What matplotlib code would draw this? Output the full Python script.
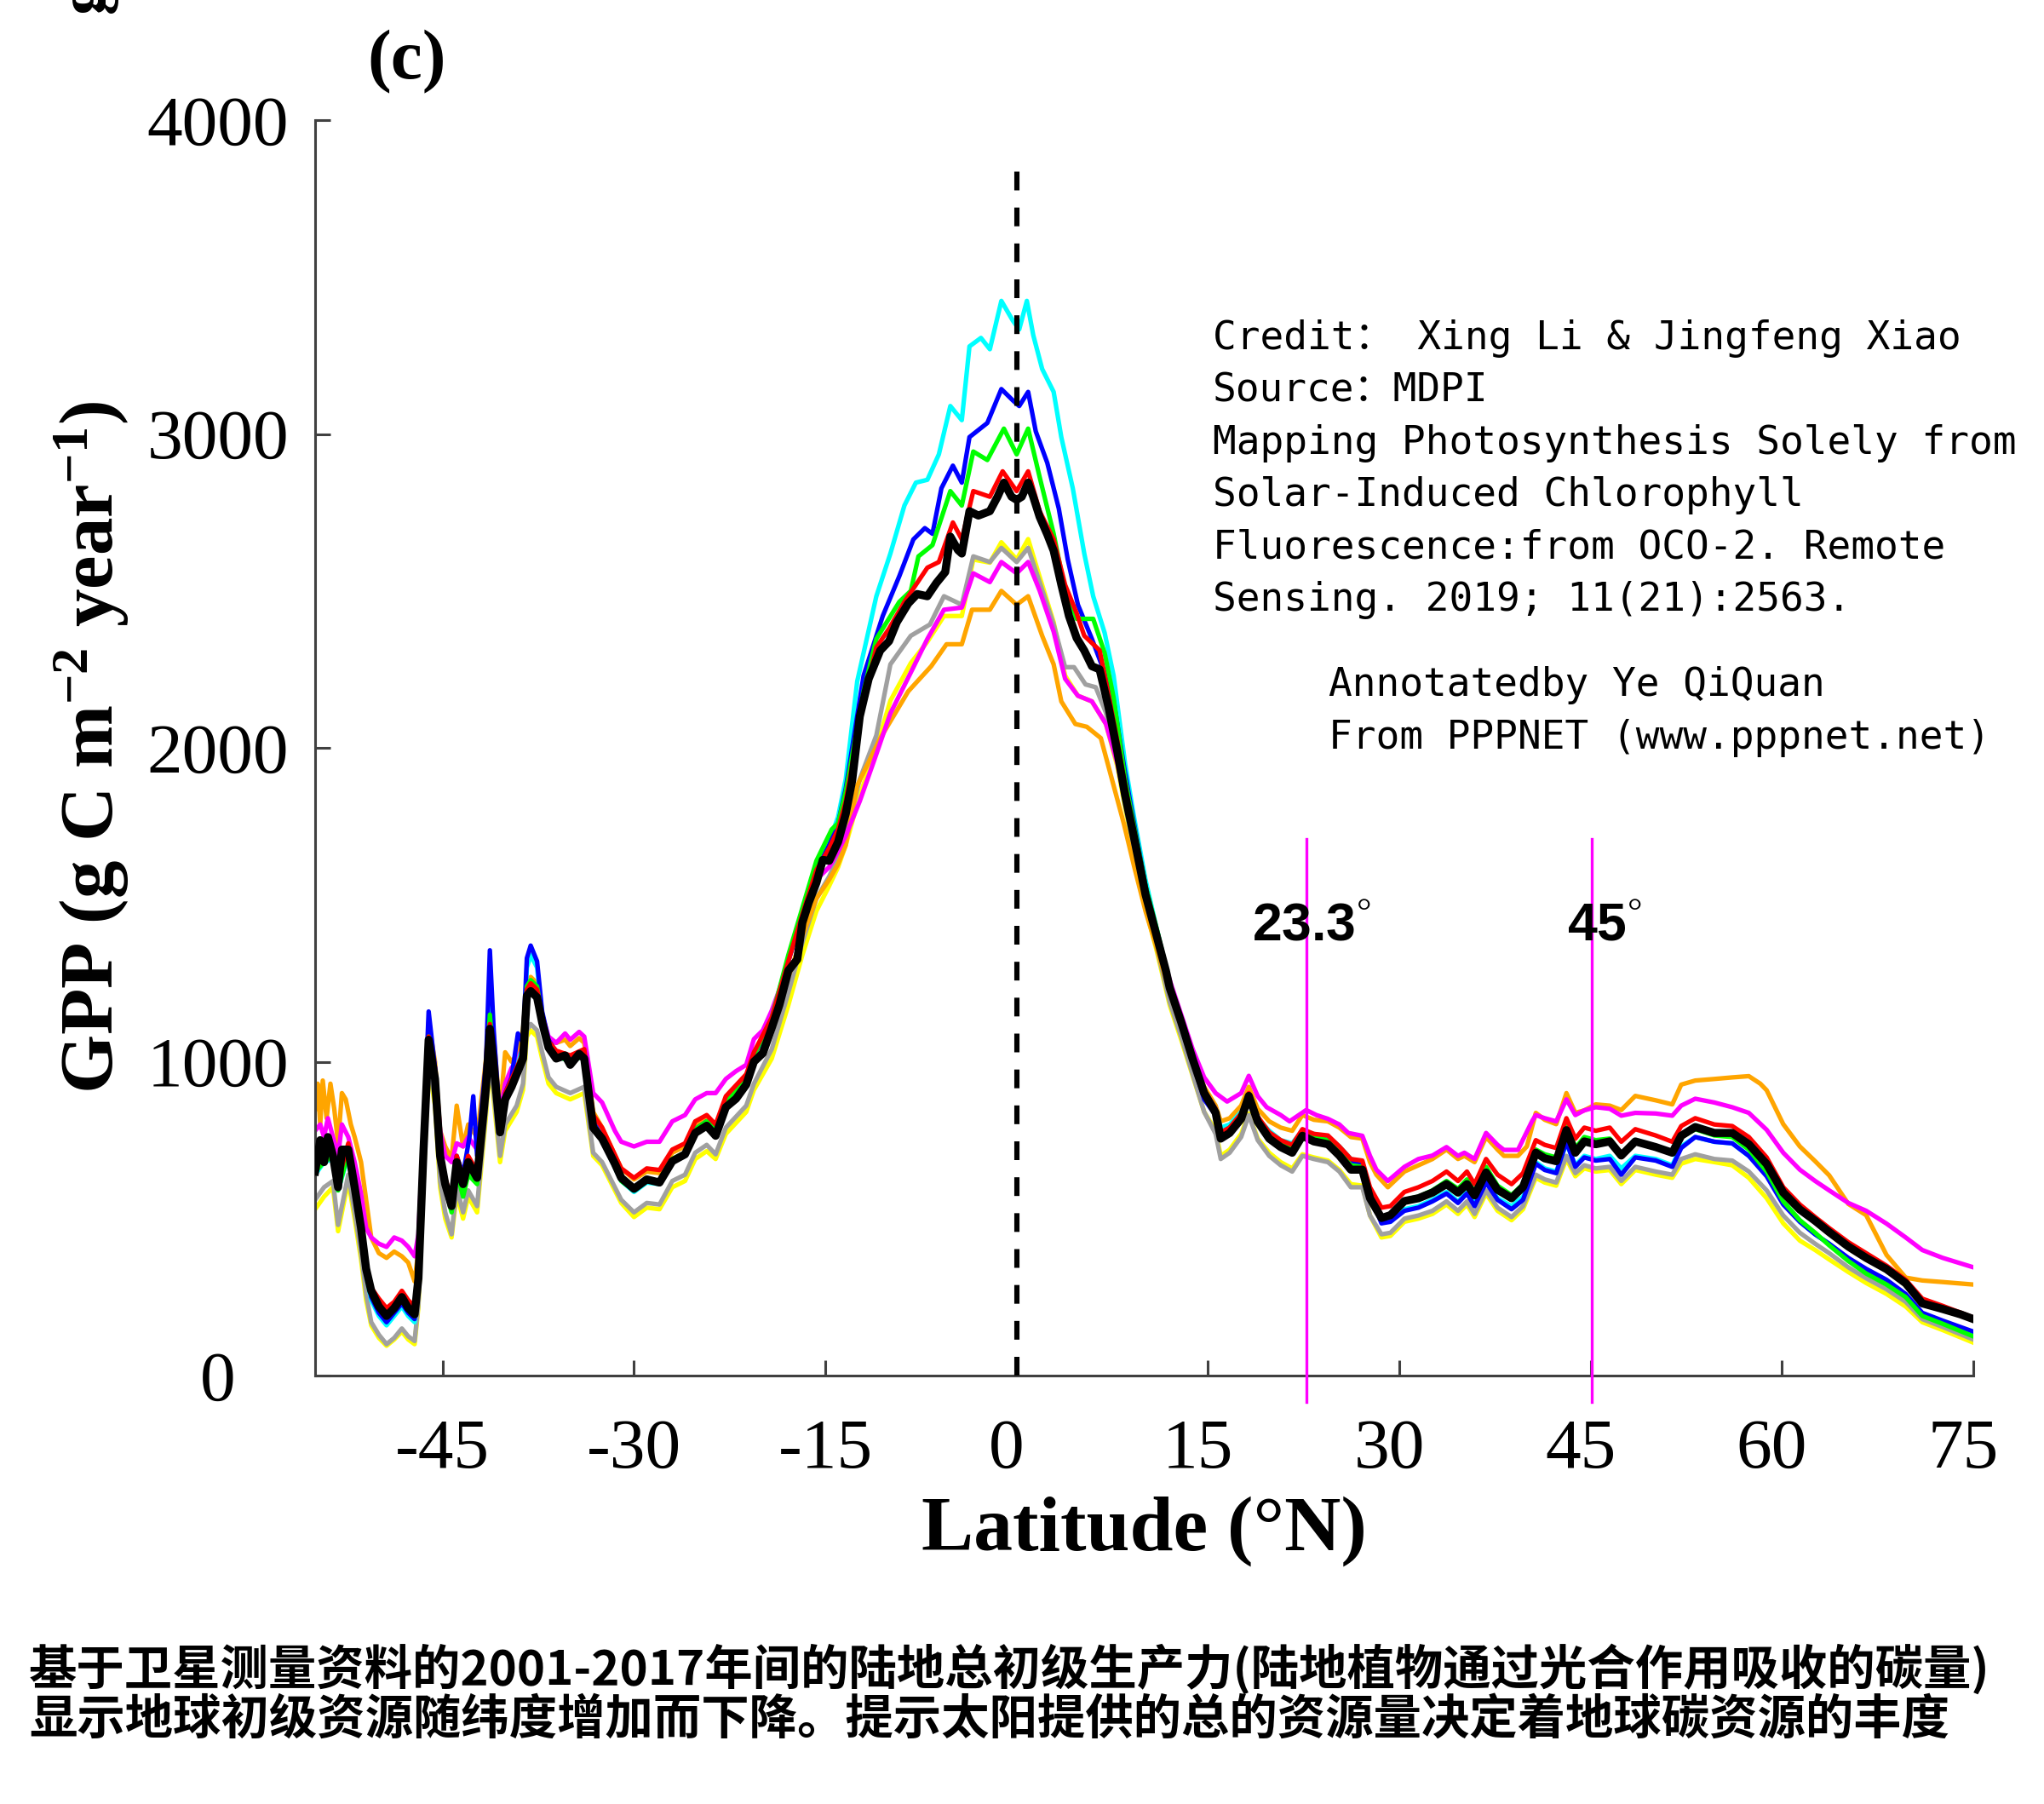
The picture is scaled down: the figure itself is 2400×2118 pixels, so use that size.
import matplotlib
matplotlib.use('Agg')
import matplotlib.pyplot as plt
import matplotlib.transforms as mtransforms
from matplotlib import font_manager

# ---------------- data (latitude, GPP) ----------------
BLACK_PTS = [(-55.0, 650), (-54.6, 750), (-54.3, 680), (-54.0, 760), (-53.6, 700), (-53.2, 600), (-52.9, 720),
             (-52.4, 720), (-51.9, 600), (-51.4, 470), (-51.0, 340), (-50.6, 270), (-50.0, 220), (-49.4, 190),
             (-48.8, 215), (-48.2, 250), (-47.7, 215), (-47.2, 195), (-46.9, 310), (-46.5, 720), (-46.1, 1070),
             (-45.6, 945), (-45.2, 700), (-44.8, 610), (-44.3, 540), (-43.9, 680), (-43.4, 610), (-43.0, 680),
             (-42.3, 630), (-41.6, 920), (-41.3, 1105), (-41.0, 990), (-40.5, 775), (-40.1, 880), (-39.6, 920),
             (-39.2, 960), (-38.7, 1010), (-38.4, 1210), (-38.1, 1225), (-37.6, 1205), (-37.2, 1125), (-36.7, 1045),
             (-36.1, 1010), (-35.4, 1020), (-35.0, 990), (-34.3, 1025), (-33.9, 1010), (-33.2, 790), (-32.5, 755),
             (-31.5, 675), (-31.0, 630), (-30.0, 595), (-29.0, 625), (-28.0, 615), (-27.0, 683), (-26.0, 705),
             (-25.2, 773), (-24.3, 796), (-23.6, 764), (-22.8, 855), (-22.0, 882), (-21.2, 927), (-20.6, 1000),
             (-19.9, 1027), (-19.2, 1108), (-18.6, 1181), (-17.9, 1290), (-17.2, 1326), (-16.8, 1443), (-16.3, 1507),
             (-15.7, 1570), (-15.2, 1643), (-14.7, 1640), (-14.0, 1700), (-13.4, 1790), (-12.9, 1895), (-12.3, 2100),
             (-11.6, 2220), (-10.7, 2310), (-10.0, 2340), (-9.4, 2400), (-8.5, 2460), (-7.8, 2490), (-7.0, 2483),
             (-6.3, 2525), (-5.6, 2560), (-5.2, 2673), (-4.6, 2630), (-4.3, 2619), (-3.7, 2754), (-3.0, 2740),
             (-2.1, 2754), (-1.5, 2800), (-1.0, 2845), (-0.4, 2800), (0.0, 2790), (0.4, 2800), (0.9, 2845),
             (1.3, 2800), (1.8, 2736), (2.4, 2680), (2.9, 2628), (3.5, 2520), (4.1, 2420), (4.7, 2350), (5.3, 2310),
             (5.9, 2260), (6.5, 2250), (7.2, 2130), (7.9, 1986), (8.5, 1850), (9.2, 1714), (10.1, 1533), (11.0, 1397),
             (11.7, 1290), (12.0, 1235), (12.9, 1126), (13.8, 1008), (14.7, 900), (15.6, 837), (16.0, 755),
             (16.7, 773), (17.6, 818), (18.2, 891), (18.9, 809), (19.8, 755), (20.7, 728), (21.6, 710), (22.4, 764),
             (23.3, 746), (24.4, 737), (25.3, 701), (26.2, 656), (27.1, 656), (27.7, 565), (28.6, 502), (29.3, 511),
             (30.4, 556), (31.5, 565), (32.6, 583), (33.7, 610), (34.6, 583), (35.3, 610), (35.9, 574), (36.8, 647),
             (37.7, 592), (38.8, 565), (39.7, 601), (40.7, 710), (41.4, 692), (42.3, 683), (43.1, 782), (43.8, 710),
             (44.5, 746), (45.4, 737), (46.5, 746), (47.4, 701), (48.5, 746), (50.1, 728), (51.4, 710), (52.1, 764),
             (53.2, 792), (54.7, 773), (56.1, 773), (57.4, 737), (58.8, 674), (60.1, 583), (61.4, 529), (62.6, 493),
             (63.7, 457), (65.2, 411), (66.6, 375), (68.2, 339), (69.7, 294), (71.0, 230), (72.6, 212), (74.0, 195),
             (75.0, 180)]

CYAN_PTS = [(-55, 640), (-54.3, 680), (-53.6, 690), (-53.2, 590), (-52.4, 700), (-51.9, 580), (-51.4, 450),
            (-51.0, 320), (-50.6, 240), (-50.0, 190), (-49.4, 160), (-48.8, 190), (-48.2, 220), (-47.7, 190),
            (-47.2, 170), (-46.9, 300), (-46.5, 720), (-46.1, 1100), (-45.6, 950), (-45.2, 700), (-44.8, 600),
            (-44.3, 530), (-43.9, 690), (-43.4, 600), (-43.0, 680), (-42.3, 630), (-41.6, 950), (-41.3, 1250),
            (-41.0, 1050), (-40.5, 780), (-40.1, 890), (-39.2, 980), (-38.7, 1050), (-38.4, 1300), (-38.1, 1340),
            (-37.6, 1300), (-37.2, 1150), (-36.7, 1060), (-36.1, 1020), (-35.0, 1000), (-33.9, 1020), (-33.2, 800),
            (-32.5, 750), (-31.0, 620), (-30.0, 585), (-29.0, 615), (-28.0, 610), (-27.0, 680), (-26.0, 700),
            (-25.2, 780), (-24.3, 810), (-23.6, 775), (-22.8, 870), (-21.2, 950), (-20.6, 1020), (-19.2, 1130),
            (-17.9, 1330), (-16.8, 1480), (-15.7, 1620), (-14.7, 1700), (-14.0, 1780), (-13.4, 1900), (-12.5, 2212),
            (-11.0, 2483), (-9.9, 2619), (-8.8, 2772), (-7.9, 2845), (-7.0, 2854), (-6.1, 2935), (-5.2, 3089),
            (-4.3, 3044), (-3.7, 3279), (-2.8, 3306), (-2.1, 3270), (-1.2, 3424), (-0.3, 3361), (0.2, 3333),
            (0.8, 3424), (1.3, 3315), (2.0, 3207), (2.9, 3134), (3.5, 2990), (4.4, 2827), (5.3, 2619), (6.0, 2483),
            (6.9, 2366), (7.6, 2230), (8.5, 1950), (9.2, 1780), (10.1, 1580), (11.0, 1420), (12.0, 1250),
            (12.9, 1130), (13.8, 1020), (14.7, 910), (15.6, 850), (16.0, 790), (16.7, 800), (17.6, 840), (18.2, 880),
            (18.9, 820), (19.8, 780), (20.7, 750), (21.6, 740), (22.4, 780), (23.3, 770), (24.4, 760), (25.3, 730),
            (26.2, 690), (27.1, 680), (27.7, 590), (28.6, 490), (29.3, 490), (30.4, 530), (31.5, 540), (32.6, 560),
            (33.7, 585), (34.6, 555), (35.3, 585), (35.9, 550), (36.8, 620), (37.7, 565), (38.8, 540), (39.7, 570),
            (40.7, 680), (41.4, 660), (42.3, 650), (43.1, 740), (43.8, 670), (44.5, 700), (45.4, 690), (46.5, 700),
            (47.4, 660), (48.5, 700), (50.1, 690), (51.4, 670), (52.1, 730), (53.2, 760), (54.7, 745), (56.1, 740),
            (57.4, 700), (58.8, 640), (60.1, 550), (61.4, 490), (62.6, 450), (63.7, 420), (65.2, 370), (66.6, 335),
            (68.2, 300), (69.7, 255), (71.0, 195), (72.6, 170), (75.0, 130)]

BLUE_PTS = [(-55, 650), (-54.3, 690), (-53.6, 700), (-53.2, 600), (-52.4, 710), (-51.9, 590), (-51.4, 460),
            (-51.0, 330), (-50.6, 250), (-50.0, 200), (-49.4, 170), (-48.8, 200), (-48.2, 230), (-47.7, 200),
            (-47.2, 180), (-46.9, 320), (-46.5, 760), (-46.1, 1160), (-45.6, 980), (-45.2, 720), (-44.8, 620),
            (-44.3, 560), (-43.9, 700), (-43.4, 640), (-42.9, 760), (-42.6, 890), (-42.3, 700), (-41.6, 1000),
            (-41.3, 1355), (-41.0, 1100), (-40.5, 800), (-40.1, 900), (-39.6, 950), (-39.1, 1090), (-38.7, 1060),
            (-38.4, 1330), (-38.1, 1370), (-37.6, 1320), (-37.2, 1160), (-36.7, 1070), (-36.1, 1030), (-35.0, 1010),
            (-33.9, 1030), (-33.2, 810), (-32.5, 760), (-31.0, 625), (-30.0, 590), (-29.0, 620), (-28.0, 615),
            (-27.0, 685), (-26.0, 705), (-25.2, 785), (-24.3, 810), (-23.6, 780), (-22.8, 870), (-21.2, 950),
            (-20.6, 1020), (-19.2, 1130), (-17.9, 1320), (-16.8, 1470), (-15.7, 1610), (-14.7, 1690), (-14.0, 1760),
            (-13.4, 1870), (-12.0, 2230), (-10.5, 2420), (-9.2, 2547), (-8.1, 2664), (-7.2, 2700), (-6.6, 2682),
            (-5.9, 2827), (-5.0, 2899), (-4.3, 2845), (-3.7, 2990), (-2.3, 3035), (-1.2, 3143), (-0.3, 3107),
            (0.2, 3089), (0.9, 3134), (1.5, 3008), (2.4, 2908), (3.3, 2763), (4.0, 2601), (4.8, 2456), (5.9, 2347),
            (6.9, 2239), (7.6, 2150), (8.5, 1920), (9.2, 1760), (10.1, 1560), (11.0, 1410), (12.0, 1240),
            (12.9, 1120), (13.8, 1000), (14.7, 880), (15.6, 830), (16.0, 770), (16.7, 790), (17.6, 830), (18.2, 880),
            (18.9, 815), (19.8, 770), (20.7, 745), (21.6, 730), (22.4, 775), (23.3, 760), (24.4, 750), (25.3, 720),
            (26.2, 680), (27.1, 670), (27.7, 580), (28.6, 485), (29.3, 490), (30.4, 525), (31.5, 535), (32.6, 555),
            (33.7, 580), (34.6, 550), (35.3, 580), (35.9, 540), (36.8, 615), (37.7, 560), (38.8, 530), (39.7, 560),
            (40.7, 675), (41.4, 655), (42.3, 645), (43.1, 745), (43.8, 665), (44.5, 695), (45.4, 685), (46.5, 690),
            (47.4, 640), (48.5, 695), (50.1, 685), (51.4, 665), (52.1, 725), (53.2, 760), (54.7, 745), (56.1, 740),
            (57.4, 700), (58.8, 635), (60.1, 545), (61.4, 490), (62.6, 450), (63.7, 420), (65.2, 375), (66.6, 340),
            (68.2, 305), (69.7, 260), (71.0, 200), (72.6, 175), (75.0, 140)]

GREEN_PTS = [(-55, 650), (-54.3, 680), (-53.6, 700), (-53.2, 590), (-52.4, 710), (-51.9, 590), (-51.4, 460),
             (-51.0, 335), (-50.6, 260), (-50.0, 215), (-49.4, 185), (-48.8, 210), (-48.2, 245), (-47.7, 210),
             (-47.2, 190), (-46.9, 310), (-46.5, 720), (-46.1, 1080), (-45.6, 950), (-45.2, 700), (-44.8, 600),
             (-44.3, 520), (-43.9, 650), (-43.4, 570), (-43.0, 640), (-42.3, 610), (-41.6, 930), (-41.3, 1150),
             (-41.0, 1000), (-40.5, 770), (-40.1, 880), (-39.2, 970), (-38.7, 1030), (-38.4, 1240), (-38.1, 1260),
             (-37.6, 1240), (-37.2, 1140), (-36.7, 1055), (-36.1, 1020), (-35.0, 1000), (-33.9, 1020), (-33.2, 800),
             (-32.5, 760), (-31.0, 620), (-30.0, 590), (-29.0, 620), (-28.0, 615), (-27.0, 690), (-26.0, 710),
             (-25.2, 785), (-24.3, 810), (-23.6, 780), (-22.8, 870), (-21.2, 945), (-20.6, 1020), (-19.2, 1140),
             (-17.9, 1340), (-16.8, 1490), (-15.7, 1640), (-14.5, 1740), (-14.0, 1760), (-13.4, 1860), (-12.0, 2180),
             (-11.0, 2347), (-9.2, 2465), (-8.3, 2500), (-7.7, 2610), (-6.6, 2646), (-5.2, 2818), (-4.3, 2772),
             (-3.4, 2944), (-2.3, 2917), (-1.0, 3017), (0.0, 2935), (0.9, 3017), (1.8, 2863), (2.9, 2682),
             (3.8, 2501), (4.7, 2411), (6.0, 2411), (6.9, 2302), (7.6, 2160), (8.5, 1900), (9.2, 1750), (10.1, 1560),
             (11.0, 1420), (12.0, 1250), (12.9, 1135), (13.8, 1015), (14.7, 900), (15.6, 840), (16.0, 770),
             (16.7, 790), (17.6, 830), (18.2, 885), (18.9, 815), (19.8, 765), (20.7, 740), (21.6, 725), (22.4, 775),
             (23.3, 760), (24.4, 750), (25.3, 715), (26.2, 670), (27.1, 665), (27.7, 580), (28.6, 505), (29.3, 515),
             (30.4, 560), (31.5, 570), (32.6, 590), (33.7, 620), (34.6, 595), (35.3, 625), (35.9, 585), (36.8, 665),
             (37.7, 605), (38.8, 575), (39.7, 610), (40.7, 720), (41.4, 705), (42.3, 695), (43.1, 810), (43.8, 725),
             (44.5, 760), (45.4, 750), (46.5, 755), (47.4, 705), (48.5, 750), (50.1, 730), (51.4, 710), (52.1, 760),
             (53.2, 785), (54.7, 765), (56.1, 760), (57.4, 720), (58.8, 650), (60.1, 555), (61.4, 495), (62.6, 455),
             (63.7, 415), (65.2, 365), (66.6, 325), (68.2, 290), (69.7, 250), (71.0, 190), (72.6, 165), (75.0, 125)]

RED_PTS = [(-55, 680), (-54.3, 700), (-53.6, 720), (-53.2, 620), (-52.4, 740), (-51.9, 620), (-51.4, 490),
           (-51.0, 360), (-50.6, 280), (-50.0, 245), (-49.4, 215), (-48.8, 235), (-48.2, 270), (-47.7, 240),
           (-47.2, 220), (-46.9, 330), (-46.5, 730), (-46.1, 1080), (-45.6, 960), (-45.2, 720), (-44.8, 630),
           (-44.3, 560), (-43.9, 700), (-43.4, 630), (-43.0, 700), (-42.3, 650), (-41.6, 940), (-41.3, 1120),
           (-41.0, 1000), (-40.5, 790), (-40.1, 900), (-39.2, 980), (-38.7, 1030), (-38.4, 1230), (-38.1, 1250),
           (-37.6, 1230), (-37.2, 1145), (-36.7, 1065), (-36.1, 1035), (-35.0, 1020), (-33.9, 1040), (-33.2, 830),
           (-32.5, 790), (-31.0, 660), (-30.0, 630), (-29.0, 660), (-28.0, 655), (-27.0, 720), (-26.0, 740),
           (-25.2, 810), (-24.3, 830), (-23.6, 800), (-22.8, 890), (-21.2, 960), (-20.6, 1030), (-19.2, 1140),
           (-17.9, 1320), (-16.8, 1470), (-15.7, 1610), (-14.7, 1680), (-14.0, 1740), (-13.4, 1830), (-12.0, 2150),
           (-11.0, 2320), (-10.0, 2380), (-8.8, 2465), (-7.0, 2574), (-6.1, 2592), (-5.0, 2718), (-4.3, 2664),
           (-3.4, 2818), (-2.1, 2800), (-1.1, 2881), (0.0, 2818), (0.9, 2881), (1.8, 2754), (2.9, 2664),
           (3.8, 2519), (4.7, 2429), (5.3, 2357), (6.5, 2311), (7.2, 2170), (7.9, 2020), (8.5, 1880), (9.2, 1730),
           (10.1, 1550), (11.0, 1410), (12.0, 1245), (12.9, 1135), (13.8, 1020), (14.7, 910), (15.6, 850),
           (16.0, 775), (16.7, 790), (17.6, 835), (18.2, 900), (18.9, 825), (19.8, 775), (20.7, 750), (21.6, 735),
           (22.4, 785), (23.3, 770), (24.4, 765), (25.3, 730), (26.2, 690), (27.1, 685), (27.7, 600), (28.6, 535),
           (29.3, 540), (30.4, 585), (31.5, 600), (32.6, 620), (33.7, 650), (34.6, 620), (35.3, 650), (35.9, 610),
           (36.8, 690), (37.7, 640), (38.8, 610), (39.7, 645), (40.7, 750), (41.4, 735), (42.3, 725), (43.1, 820),
           (43.8, 755), (44.5, 790), (45.4, 780), (46.5, 790), (47.4, 745), (48.5, 785), (50.1, 765), (51.4, 745),
           (52.1, 795), (53.2, 820), (54.7, 800), (56.1, 795), (57.4, 760), (58.8, 695), (60.1, 600), (61.4, 545),
           (62.6, 505), (63.7, 470), (65.2, 425), (66.6, 390), (68.2, 350), (69.7, 305), (71.0, 245), (72.6, 222),
           (75.0, 185)]

GRAY_PTS = [(-55, 560), (-54.3, 600), (-53.6, 620), (-53.2, 480), (-52.4, 640), (-51.9, 520), (-51.4, 390),
            (-51.0, 260), (-50.6, 170), (-50.0, 130), (-49.4, 100), (-48.8, 120), (-48.2, 150), (-47.7, 125),
            (-47.2, 110), (-46.9, 230), (-46.5, 640), (-46.1, 1000), (-45.6, 880), (-45.2, 620), (-44.8, 520),
            (-44.3, 450), (-43.9, 600), (-43.4, 520), (-43.0, 590), (-42.3, 540), (-41.6, 850), (-41.3, 1020),
            (-41.0, 900), (-40.5, 700), (-40.1, 800), (-39.2, 860), (-38.7, 930), (-38.4, 1100), (-38.1, 1120),
            (-37.6, 1100), (-37.2, 1030), (-36.7, 950), (-36.1, 920), (-35.0, 900), (-33.9, 920), (-33.2, 710),
            (-32.5, 680), (-31.0, 560), (-30.0, 520), (-29.0, 550), (-28.0, 545), (-27.0, 620), (-26.0, 640),
            (-25.2, 710), (-24.3, 735), (-23.6, 705), (-22.8, 790), (-21.2, 860), (-20.6, 930), (-19.2, 1040),
            (-17.9, 1220), (-16.8, 1380), (-15.7, 1520), (-14.7, 1590), (-14.0, 1650), (-13.4, 1720), (-12.3, 1900),
            (-11.0, 2040), (-9.9, 2266), (-8.3, 2357), (-6.8, 2393), (-5.7, 2483), (-4.3, 2456), (-3.4, 2610),
            (-2.1, 2592), (-1.2, 2637), (0.0, 2592), (0.9, 2637), (1.8, 2528), (2.9, 2393), (3.8, 2257),
            (4.5, 2257), (5.4, 2202), (6.2, 2193), (7.0, 2112), (7.9, 1960), (8.5, 1820), (9.2, 1680), (10.1, 1500),
            (11.0, 1360), (12.0, 1190), (12.9, 1080), (13.8, 960), (14.7, 840), (15.6, 770), (16.0, 690),
            (16.7, 710), (17.6, 760), (18.2, 830), (18.9, 750), (19.8, 700), (20.7, 670), (21.6, 650), (22.4, 700),
            (23.3, 690), (24.4, 680), (25.3, 650), (26.2, 600), (27.1, 600), (27.7, 510), (28.6, 450), (29.3, 455),
            (30.4, 500), (31.5, 510), (32.6, 525), (33.7, 555), (34.6, 525), (35.3, 555), (35.9, 515), (36.8, 590),
            (37.7, 535), (38.8, 505), (39.7, 540), (40.7, 640), (41.4, 625), (42.3, 615), (43.1, 700), (43.8, 645),
            (44.5, 670), (45.4, 660), (46.5, 665), (47.4, 620), (48.5, 665), (50.1, 650), (51.4, 640), (52.1, 690),
            (53.2, 705), (54.7, 690), (56.1, 685), (57.4, 650), (58.8, 590), (60.1, 510), (61.4, 455), (62.6, 420),
            (63.7, 390), (65.2, 345), (66.6, 310), (68.2, 275), (69.7, 235), (71.0, 180), (72.6, 155), (75.0, 115)]

YELLOW_PTS = [(-55, 530), (-54.3, 570), (-53.6, 600), (-53.2, 460), (-52.4, 620), (-51.9, 500), (-51.4, 370),
              (-51.0, 240), (-50.6, 160), (-50.0, 120), (-49.4, 95), (-48.8, 115), (-48.2, 140), (-47.7, 115),
              (-47.2, 100), (-46.9, 220), (-46.5, 620), (-46.1, 990), (-45.6, 860), (-45.2, 600), (-44.8, 500),
              (-44.3, 440), (-43.9, 580), (-43.4, 500), (-43.0, 570), (-42.3, 520), (-41.6, 830), (-41.3, 1000),
              (-41.0, 880), (-40.5, 680), (-40.1, 780), (-39.2, 840), (-38.7, 910), (-38.4, 1080), (-38.1, 1100),
              (-37.6, 1080), (-37.2, 1010), (-36.7, 930), (-36.1, 900), (-35.0, 880), (-33.9, 900), (-33.2, 700),
              (-32.5, 670), (-31.0, 550), (-30.0, 505), (-29.0, 535), (-28.0, 530), (-27.0, 600), (-26.0, 620),
              (-25.2, 690), (-24.3, 715), (-23.6, 690), (-22.8, 770), (-21.2, 840), (-20.6, 910), (-19.2, 1010),
              (-17.9, 1180), (-16.8, 1340), (-15.7, 1480), (-14.7, 1560), (-14.0, 1620), (-13.4, 1690),
              (-12.3, 1850), (-11.0, 2000), (-9.9, 2150), (-8.3, 2270), (-7.0, 2338), (-5.7, 2420), (-4.3, 2420),
              (-3.4, 2600), (-2.1, 2590), (-1.2, 2655), (0.0, 2600), (0.9, 2665), (1.8, 2545), (2.9, 2400),
              (3.8, 2230), (4.8, 2166), (5.9, 2148), (7.0, 2076), (7.9, 1940), (8.5, 1810), (9.2, 1670), (10.1, 1490),
              (11.0, 1350), (12.0, 1180), (12.9, 1070), (13.8, 955), (14.7, 840), (15.6, 780), (16.0, 700),
              (16.7, 720), (17.6, 770), (18.2, 835), (18.9, 755), (19.8, 710), (20.7, 680), (21.6, 660), (22.4, 705),
              (23.3, 695), (24.4, 685), (25.3, 655), (26.2, 610), (27.1, 605), (27.7, 510), (28.6, 440), (29.3, 445),
              (30.4, 490), (31.5, 500), (32.6, 515), (33.7, 545), (34.6, 515), (35.3, 545), (35.9, 505), (36.8, 580),
              (37.7, 525), (38.8, 495), (39.7, 530), (40.7, 630), (41.4, 615), (42.3, 605), (43.1, 690), (43.8, 635),
              (44.5, 660), (45.4, 650), (46.5, 655), (47.4, 610), (48.5, 655), (50.1, 640), (51.4, 630), (52.1, 675),
              (53.2, 690), (54.7, 680), (56.1, 670), (57.4, 630), (58.8, 565), (60.1, 485), (61.4, 430), (62.6, 400),
              (63.7, 370), (65.2, 330), (66.6, 295), (68.2, 260), (69.7, 220), (71.0, 170), (72.6, 145), (75.0, 105)]

MAGENTA_PTS = [(-55, 780), (-54.6, 800), (-54.3, 760), (-54.0, 820), (-53.6, 760), (-53.2, 700), (-52.9, 800),
               (-52.4, 760), (-51.9, 680), (-51.4, 580), (-51.0, 470), (-50.6, 440), (-50.0, 420), (-49.4, 410),
               (-48.8, 440), (-48.2, 430), (-47.7, 410), (-47.2, 380), (-46.9, 450), (-46.5, 780), (-46.1, 1100),
               (-45.6, 980), (-45.2, 780), (-44.8, 700), (-44.3, 680), (-43.9, 740), (-43.4, 730), (-43.0, 760),
               (-42.3, 720), (-41.6, 950), (-41.3, 1110), (-41.0, 1020), (-40.5, 830), (-40.1, 930), (-39.6, 980),
               (-39.2, 1000), (-38.7, 1050), (-38.4, 1230), (-38.1, 1240), (-37.6, 1220), (-37.2, 1150),
               (-36.7, 1080), (-36.1, 1060), (-35.4, 1090), (-35.0, 1070), (-34.3, 1095), (-33.9, 1080),
               (-33.2, 900), (-32.5, 870), (-31.5, 780), (-31.0, 745), (-30.0, 730), (-29.0, 745), (-28.0, 745),
               (-27.0, 810), (-26.0, 830), (-25.2, 880), (-24.3, 900), (-23.6, 900), (-22.8, 945), (-22.0, 970),
               (-21.2, 990), (-20.6, 1072), (-19.9, 1100), (-19.2, 1163), (-18.6, 1230), (-17.9, 1326), (-16.8, 1460),
               (-15.7, 1580), (-14.7, 1620), (-14.0, 1670), (-13.4, 1720), (-12.3, 1830), (-11.0, 1980), (-9.9, 2110),
               (-8.3, 2240), (-7.0, 2347), (-5.7, 2440), (-4.3, 2447), (-3.4, 2556), (-2.1, 2528), (-1.2, 2592),
               (0.0, 2556), (0.9, 2592), (1.8, 2501), (2.9, 2370), (3.8, 2220), (4.8, 2166), (5.9, 2148), (7.0, 2076),
               (7.9, 1950), (8.5, 1830), (9.2, 1700), (10.1, 1530), (11.0, 1400), (12.0, 1260), (12.9, 1150),
               (13.8, 1040), (14.7, 950), (15.6, 900), (16.5, 873), (17.6, 900), (18.2, 955), (18.9, 890), (19.6, 855),
               (20.7, 830), (21.4, 810), (22.7, 846), (23.5, 830), (24.4, 818), (25.3, 800), (26.0, 773), (27.1, 764),
               (27.7, 700), (28.2, 656), (29.1, 620), (30.4, 665), (31.5, 690), (32.6, 701), (33.7, 728), (34.6, 700),
               (35.1, 710), (35.9, 690), (36.8, 773), (37.7, 735), (38.2, 719), (39.3, 719), (40.4, 810), (40.7, 830),
               (41.4, 820), (42.3, 810), (43.1, 880), (43.8, 830), (44.5, 845), (45.4, 855), (46.5, 850), (47.4, 828),
               (48.5, 837), (50.1, 835), (51.4, 828), (52.1, 860), (53.2, 882), (54.7, 870), (56.1, 855), (57.4, 837),
               (58.8, 783), (60.1, 710), (61.4, 656), (62.6, 620), (63.7, 590), (65.2, 550), (66.6, 525), (68.2, 484),
               (69.7, 440), (71.0, 400), (72.6, 375), (75.0, 345)]

ORANGE_PTS = [(-55, 850), (-54.8, 930), (-54.6, 800), (-54.4, 940), (-54.1, 820), (-53.8, 930), (-53.5, 850),
              (-53.2, 740), (-52.9, 900), (-52.6, 880), (-52.2, 800), (-51.9, 760), (-51.4, 680), (-51.0, 560),
              (-50.6, 440), (-50.0, 390), (-49.4, 375), (-48.8, 395), (-48.2, 380), (-47.7, 360), (-47.2, 300),
              (-46.9, 400), (-46.5, 760), (-46.1, 1126), (-45.6, 1000), (-45.2, 780), (-44.8, 730), (-44.3, 690),
              (-43.9, 860), (-43.4, 730), (-43.0, 800), (-42.3, 760), (-41.6, 1010), (-41.3, 1220), (-41.0, 1080),
              (-40.5, 840), (-40.1, 1030), (-39.6, 1000), (-39.2, 1020), (-38.7, 1100), (-38.4, 1250), (-38.1, 1270),
              (-37.6, 1250), (-37.2, 1130), (-36.7, 1075), (-36.1, 1060), (-35.4, 1070), (-35.0, 1050),
              (-34.3, 1075), (-33.9, 1060), (-33.2, 840), (-32.5, 790), (-31.0, 660), (-30.0, 625), (-29.0, 650),
              (-28.0, 645), (-27.0, 710), (-26.0, 730), (-25.2, 800), (-24.3, 820), (-23.6, 790), (-22.8, 875),
              (-21.2, 940), (-20.6, 1010), (-19.2, 1110), (-17.9, 1270), (-16.8, 1400), (-15.7, 1520), (-14.7, 1580),
              (-14.0, 1630), (-13.4, 1690), (-12.5, 1880), (-10.7, 2030), (-8.5, 2180), (-6.7, 2260), (-5.5, 2330),
              (-4.3, 2330), (-3.5, 2440), (-2.1, 2440), (-1.2, 2500), (0.0, 2456), (0.9, 2483), (2.0, 2357),
              (2.9, 2266), (3.5, 2148), (4.6, 2076), (5.5, 2067), (6.6, 2031), (7.5, 1895), (8.4, 1759), (9.2, 1624),
              (10.1, 1480), (11.0, 1360), (12.0, 1220), (12.9, 1110), (13.8, 1010), (14.7, 920), (15.6, 860),
              (16.0, 810), (16.7, 820), (17.6, 860), (18.2, 920), (18.9, 850), (19.8, 810), (20.7, 790), (21.6, 780),
              (22.4, 830), (23.3, 815), (24.4, 810), (25.3, 790), (26.2, 760), (27.1, 755), (27.7, 680), (28.2, 640),
              (29.1, 600), (30.4, 650), (31.5, 670), (32.6, 690), (33.7, 720), (34.6, 690), (35.1, 700), (35.9, 680),
              (36.8, 760), (37.7, 720), (38.2, 700), (39.3, 700), (40.0, 730), (40.7, 837), (41.4, 815), (42.3, 801),
              (43.1, 900), (43.8, 837), (44.5, 845), (45.4, 864), (46.5, 860), (47.4, 846), (48.5, 891), (50.1, 877),
              (51.4, 864), (52.1, 927), (53.2, 940), (54.7, 945), (56.1, 950), (57.4, 954), (58.3, 930), (58.8, 909),
              (60.1, 801), (61.4, 730), (62.6, 683), (63.7, 638), (65.2, 547), (66.6, 511), (68.2, 384), (69.7, 312),
              (71.0, 303), (72.6, 298), (75.0, 290)]

# series drawn bottom-to-top
SERIES = [("yellow", "#FFFF00", YELLOW_PTS), ("gray", "#A0A0A0", GRAY_PTS), ("orange", "#FFA500", ORANGE_PTS),
          ("magenta", "#FF00FF", MAGENTA_PTS), ("cyan", "#00FFFF", CYAN_PTS), ("blue", "#0000FF", BLUE_PTS),
          ("green", "#00FF00", GREEN_PTS), ("red", "#FF0000", RED_PTS)]

X_TICKS = [-45, -30, -15, 0, 15, 30, 45, 60, 75]
X_LABELS = ["-45", "-30", "-15", "0", "15", "30", "45", "60", "75"]
Y_TICKS = [0, 1000, 2000, 3000, 4000]
Y_LABELS = ["0", "1000", "2000", "3000", "4000"]

EQUATOR_LAT = 0
EQUATOR_TOP = 3840
MARK_LINES = [22.7, 45.1]
MARK_LINE_RANGE = (-85, 1710)
MARK_LABELS = [(18.45, "23.3"), (43.15, "45")]
MARK_LABEL_Y = 1430

CREDIT_LINES = ["Credit： Xing Li & Jingfeng Xiao",
                "Source：MDPI",
                "Mapping Photosynthesis Solely from",
                "Solar-Induced Chlorophyll",
                "Fluorescence:from OCO-2. Remote",
                "Sensing. 2019; 11(21):2563."]
ANNOT_LINES = ["Annotatedby Ye QiQuan",
               "From PPPNET (www.pppnet.net)"]
CAPTION_LINES = ["基于卫星测量资料的2001-2017年间的陆地总初级生产力(陆地植物通过光合作用吸收的碳量)",
                 "显示地球初级资源随纬度增加而下降。提示太阳提供的总的资源量决定着地球碳资源的丰度"]

# ---------------- styling ----------------
W, H, DPI = 2400, 2118, 200
SERIF = "Liberation Serif"
names = {f.name for f in font_manager.fontManager.ttflist}
NARROW = "Liberation Sans Narrow" if "Liberation Sans Narrow" in names else "Liberation Sans"
MONO = ["DejaVu Sans Mono", "Noto Sans CJK SC"]
CJK = ["Noto Sans CJK SC", "DejaVu Sans"]

plt.rcParams["mathtext.fontset"] = "custom"
plt.rcParams["mathtext.rm"] = SERIF
plt.rcParams["mathtext.bf"] = SERIF + ":bold"
plt.rcParams["mathtext.it"] = SERIF + ":italic"
plt.rcParams["axes.unicode_minus"] = False

fig = plt.figure(figsize=(W / DPI, H / DPI), dpi=DPI)
fig.patch.set_facecolor("white")

L, R, B, T = 370, 2317, 1615, 141
ax = fig.add_axes([L / W, 1 - B / H, (R - L) / W, (B - T) / H])
ax.set_xlim(-55, 75)
ax.set_ylim(0, 4000)

spine_c = "#404040"
for s in ("top", "right"):
    ax.spines[s].set_visible(False)
for s in ("left", "bottom"):
    ax.spines[s].set_color(spine_c)
    ax.spines[s].set_linewidth(1.1)

for name, col, pts in SERIES:
    xs = [p[0] for p in pts]
    ys = [p[1] for p in pts]
    ax.plot(xs, ys, color=col, lw=1.9, solid_joinstyle="round", zorder=2)
ax.plot([p[0] for p in BLACK_PTS], [p[1] for p in BLACK_PTS], color="black", lw=3.4,
        solid_joinstyle="round", zorder=3)

ax.plot([EQUATOR_LAT, EQUATOR_LAT], [0, EQUATOR_TOP], color="black", lw=2.2, dashes=(3.6, 3.3), zorder=4)
for xv in MARK_LINES:
    ax.plot([xv, xv], list(MARK_LINE_RANGE), color="#FF00FF", lw=1.2, zorder=5, clip_on=False)
for xl, txt in MARK_LABELS:
    ax.text(xl, MARK_LABEL_Y, txt + r"$^{\degree}$", ha="left", va="center", fontsize=22.5,
            fontweight="bold", family=NARROW, color="black", zorder=6)

ax.tick_params(axis="both", direction="in", length=6.5, width=1.1, color=spine_c, labelcolor="black")
ax.tick_params(axis="x", pad=18)
ax.tick_params(axis="y", pad=41)
ax.set_xticks(X_TICKS, labels=X_LABELS, fontsize=30, family=SERIF)
ax.set_yticks(Y_TICKS, labels=Y_LABELS, fontsize=30, family=SERIF, ha="center")
for lab, v in zip(ax.get_xticklabels(), X_TICKS):
    if v >= 0:
        lab.set_transform(lab.get_transform() + mtransforms.ScaledTranslation(-12 / DPI, 0, fig.dpi_scale_trans))

ax.set_ylabel(r"GPP (g C m$^{\mathbf{-2}}$ year$^{\mathbf{-1}}$)", fontsize=32, fontweight="bold",
              family=SERIF, va="center")
ax.yaxis.set_label_coords((107 - L) / (R - L), 0.5)
ax.set_xlabel("Latitude (°N)", fontsize=33, fontweight="bold", family=SERIF, va="center")
ax.xaxis.set_label_coords(0.5, (B - 1798) / (B - T))

fig.text(478 / W, 1 - 73 / H, "(c)", ha="center", va="center", fontsize=30, fontweight="bold", family=SERIF)
# fragment of a neighbouring panel's label, cut by the top edge as in the reference
fig.text(102 / W, 1 + 4 / H, "g", ha="center", va="center", rotation=90, fontsize=28, fontweight="bold",
         family=SERIF)

credit_base = [410, 472, 533, 594, 655, 717]
for yb, line in zip(credit_base, CREDIT_LINES):
    fig.text(1424 / W, 1 - yb / H, line, ha="left", va="baseline", fontsize=16.6, family=MONO, color="black")
for yb, line in zip([817, 879], ANNOT_LINES):
    fig.text(1560 / W, 1 - yb / H, line, ha="left", va="baseline", fontsize=16.6, family=MONO, color="black")

for yb, line in zip([1978, 2036], CAPTION_LINES):
    fig.text(34 / W, 1 - yb / H, line, ha="left", va="baseline", fontsize=20.3, family=CJK,
             fontweight="bold", color="black")

fig.savefig("out.png", dpi=DPI, facecolor="white")
